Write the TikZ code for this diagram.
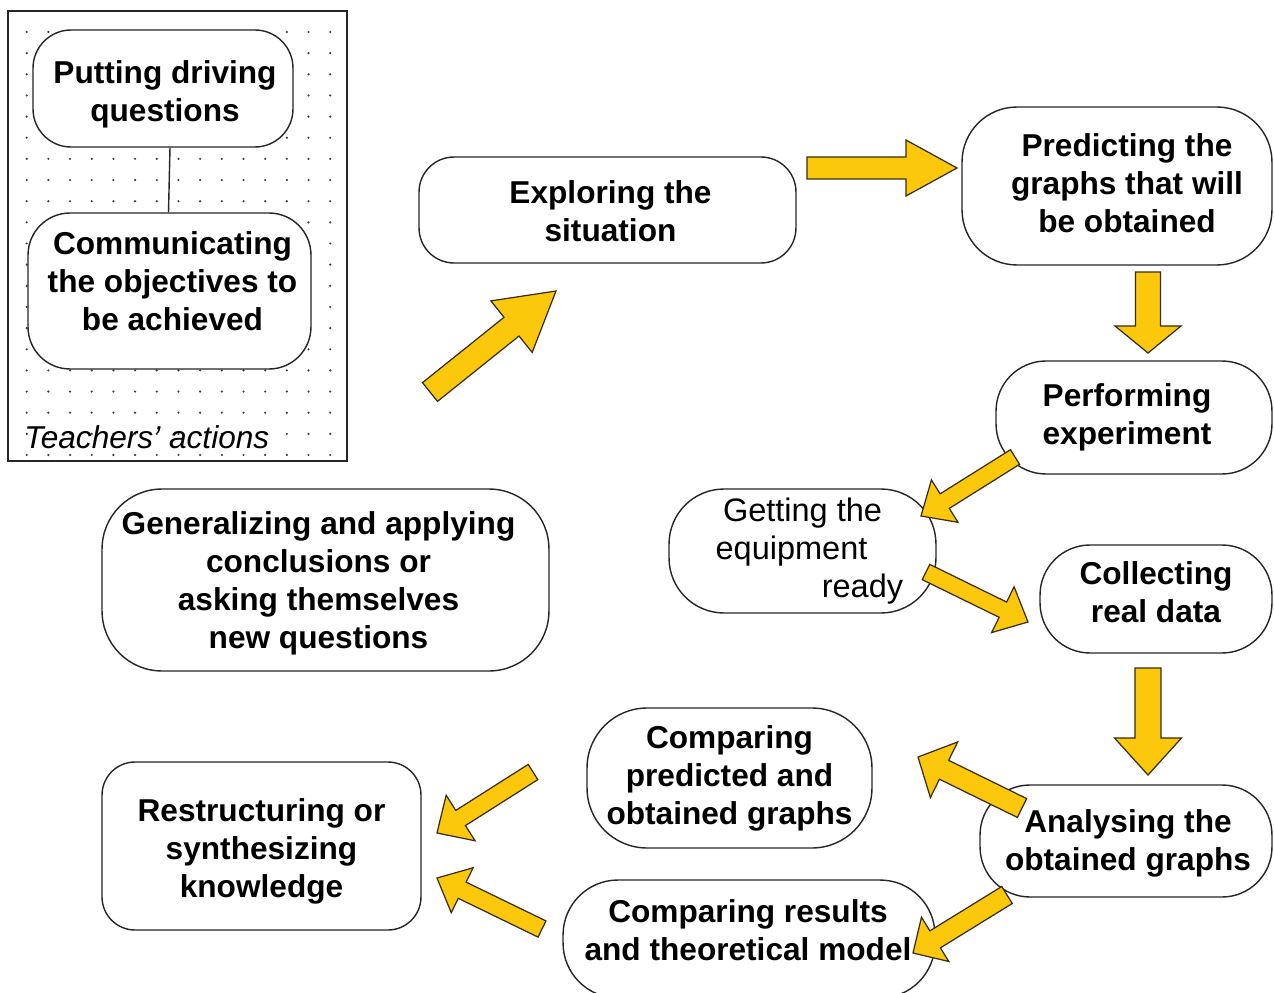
\documentclass[tikz,border=0pt]{standalone}
\usepackage{fontspec}
\setmainfont{Liberation Sans}
\usetikzlibrary{calc}
\definecolor{arrowyellow}{RGB}{252,200,12}
\definecolor{arrowedge}{RGB}{55,45,20}
\definecolor{dotc}{RGB}{60,60,60}
\tikzset{
  box/.style={draw=black!85, line width=0.8pt, fill=white, inner sep=0pt},
  boxtext/.style={align=center, inner sep=0pt, font=\bfseries\fontsize{18}{21.6}\selectfont},
  plaintext/.style={boxtext, font=\fontsize{18.5}{21.6}\selectfont},
  barrow/.style={draw=arrowedge, fill=arrowyellow, line width=0.7pt, line join=miter},
  framebox/.style={draw=black!85, line width=0.9pt},
  linkline/.style={draw=black!85, line width=0.8pt}
}
% #1 tail, #2 tip, #3 shaft half width, #4 head half width, #5 head length (px)
\newcommand\blockarr[5]{%
  \coordinate (ba-b) at ($(#2)!#5*0.02cm!(#1)$);
  \filldraw[barrow] ($(#1)!#3*0.02cm!90:(#2)$) -- ($(ba-b)!#3*0.02cm!90:(#2)$)
    -- ($(ba-b)!#4*0.02cm!90:(#2)$) -- (#2) -- ($(ba-b)!#4*0.02cm!-90:(#2)$)
    -- ($(ba-b)!#3*0.02cm!-90:(#2)$) -- ($(#1)!#3*0.02cm!-90:(#2)$) -- cycle;}
\begin{document}
\begin{tikzpicture}[x=0.02cm, y=-0.02cm]
\useasboundingbox (0,0) rectangle (1274,993);
\clip (0,0) rectangle (1274,993);
\fill[white] (0,0) rectangle (1274,993);

% teachers' actions panel
\draw[framebox] (8,11) rectangle (347,461);
\foreach \i in {0,...,14}
  \foreach \j in {0,...,20}
    \fill[dotc] (26.7+\i*21.68, 32+\j*21.15) circle (0.024cm);
\node[anchor=west, inner sep=0pt, font=\itshape\fontsize{18}{21.6}\selectfont] (teach) at (24,437) {Teachers’ actions};

\node[box, rounded corners=0.76cm, minimum width=5.2cm, minimum height=2.34cm] (put) at (163,88.5) {};
\node[boxtext] (put-t) at ($(put.center)+(2,6)$) {Putting driving\\questions};
\node[box, rounded corners=0.84cm, minimum width=5.66cm, minimum height=3.12cm] (comm) at (169.5,291) {};
\node[boxtext] (comm-t) at ($(comm.center)+(3,-10)$) {Communicating\\the objectives to\\be achieved};
\draw[linkline] ($(put.south)+(7,0)$) -- ($(comm.north)+(-1,0)$);

% main cycle boxes
\node[box, rounded corners=0.7cm, minimum width=7.54cm, minimum height=2.12cm] (explore) at (607.5,210) {};
\node[boxtext] (explore-t) at ($(explore.center)+(3,1)$) {Exploring the\\situation};

\node[box, rounded corners=1.1cm, minimum width=6.2cm, minimum height=3.16cm] (predict) at (1117,186) {};
\node[boxtext] (predict-t) at ($(predict.center)+(10,-3)$) {Predicting the\\graphs that will\\be obtained};

\node[box, rounded corners=1.0cm, minimum width=5.52cm, minimum height=2.26cm] (perform) at (1134,417.5) {};
\node[boxtext] (perform-t) at ($(perform.center)+(-7,0)$) {Performing\\experiment};

\node[box, rounded corners=1.1cm, minimum width=5.34cm, minimum height=2.48cm] (getting) at (802.5,551) {};
\node[plaintext] (getting-t) at ($(getting.center)+(0,0)$) {Getting the\\equipment\hbox to 0.44cm{}\\\hbox to 2.4cm{}ready};

\node[box, rounded corners=1.0cm, minimum width=4.64cm, minimum height=2.16cm] (collect) at (1156,599) {};
\node[boxtext] (collect-t) at ($(collect.center)+(0,-7)$) {Collecting\\real data};

\node[box, rounded corners=1.0cm, minimum width=5.84cm, minimum height=2.24cm] (analyse) at (1126,841) {};
\node[boxtext] (analyse-t) at ($(analyse.center)+(2,2)$) {Analysing the\\obtained graphs};

\node[box, rounded corners=1.2cm, minimum width=5.7cm, minimum height=2.8cm] (cmppred) at (729.5,778) {};
\node[boxtext] (cmppred-t) at ($(cmppred.center)+(0,0)$) {Comparing\\predicted and\\obtained graphs};

\node[box, rounded corners=1.1cm, minimum width=7.44cm, minimum height=2.36cm] (cmpres) at (749,939) {};
\node[boxtext] (cmpres-t) at ($(cmpres.center)+(-1,-9)$) {Comparing results\\and theoretical model};

\node[box, rounded corners=0.66cm, minimum width=6.38cm, minimum height=3.36cm] (restr) at (261.5,846) {};
\node[boxtext] (restr-t) at ($(restr.center)+(0,5)$) {Restructuring or\\synthesizing\\knowledge};

\node[box, rounded corners=1.2cm, minimum width=8.94cm, minimum height=3.64cm] (general) at (325.5,580) {};
\node[boxtext] (general-t) at ($(general.center)+(-7,3)$) {Generalizing and applying\\conclusions or\\asking themselves\\new questions};

% block arrows
\coordinate (a1s) at (430,392);  \coordinate (a1e) at (556,291);
\coordinate (a2s) at (807,168);  \coordinate (a2e) at (957,168);
\coordinate (a3s) at (1148,272); \coordinate (a3e) at (1148,353);
\coordinate (a4s) at (1015,457); \coordinate (a4e) at (921,516);
\coordinate (a5s) at (926,572);  \coordinate (a5e) at (1028,622);
\coordinate (a6s) at (1148,668); \coordinate (a6e) at (1148,775);
\coordinate (a7s) at (1022,808); \coordinate (a7e) at (918,757);
\coordinate (a8s) at (1007,895); \coordinate (a8e) at (913,953);
\coordinate (a9s) at (533,772);  \coordinate (a9e) at (437,833);
\coordinate (a10s) at (542,929); \coordinate (a10e) at (437,878);

\blockarr{a1s}{a1e}{12}{33}{57}
\blockarr{a2s}{a2e}{11}{28}{51}
\blockarr{a3s}{a3e}{12.5}{33}{27}
\blockarr{a4s}{a4e}{8.6}{25}{28}
\blockarr{a5s}{a5e}{8.5}{25.5}{28}
\blockarr{a6s}{a6e}{13}{33.5}{37}
\blockarr{a7s}{a7e}{10.5}{31}{29}
\blockarr{a8s}{a8e}{10}{26}{26}
\blockarr{a9s}{a9e}{9}{27}{28}
\blockarr{a10s}{a10e}{9}{25}{28}
\end{tikzpicture}
\end{document}
